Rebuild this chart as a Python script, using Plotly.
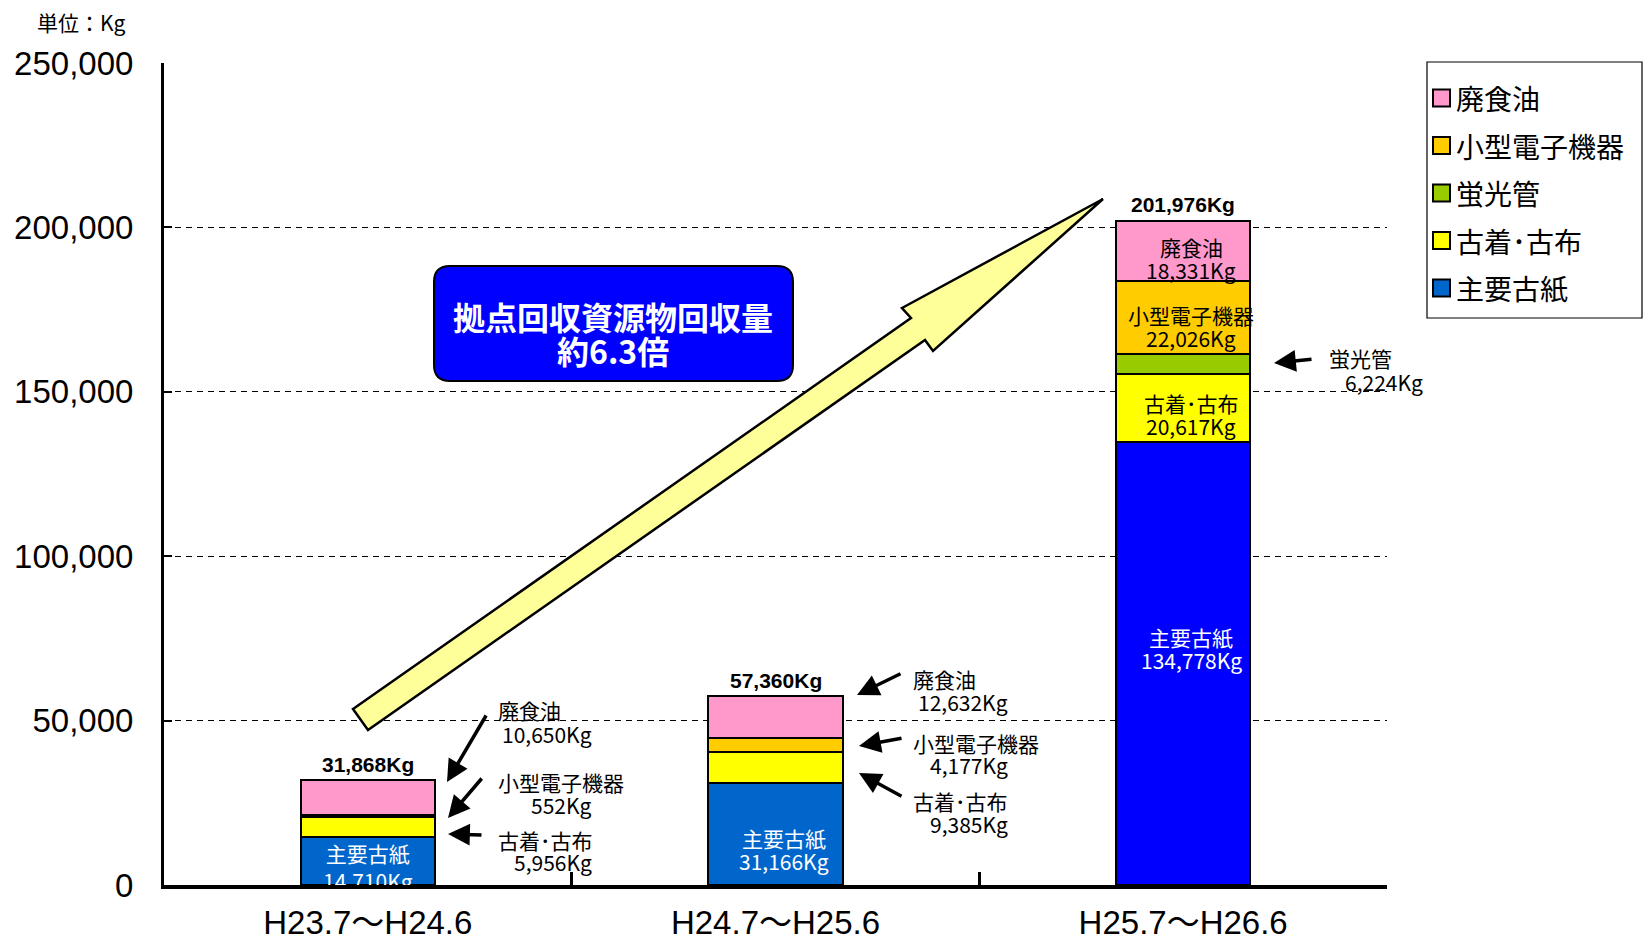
import plotly.graph_objects as go

# ---------------- data ----------------
categories = ["H23.7～H24.6", "H24.7～H25.6", "H25.7～H26.6"]
series_names = ["主要古紙", "古着･古布", "蛍光管", "小型電子機器", "廃食油"]
paper_kg = [14710, 31166, 134778]
clothes_kg = [5956, 9385, 20617]
fluorescent_kg = [0, 0, 6224]
electronics_kg = [552, 4177, 22026]
oil_kg = [10650, 12632, 18331]
totals_kg = [31868, 57360, 201976]
y_tick_vals = [0, 50000, 100000, 150000, 200000, 250000]
y_tick_text = ["0", "50,000", "100,000", "150,000", "200,000", "250,000"]
unit_label = "単位：Kg"
box_line1 = "拠点回収資源物回収量"
box_line2 = "約6.3倍"

# ---------------- geometry (page pixels) ----------------
PAGE_OFF = 8                      # default body margin of the html page
W, H = 1652 - PAGE_OFF, 942 - PAGE_OFF
L, R, T, B = 164, 1387, 63, 885   # plot area in page pixels
YMAX = 250000


def fx(px):
    return (px - L) / (R - L)


def fy(py):
    return (B - py) / (B - T)


def dv(px_offset):
    return px_offset * YMAX / (B - T)


CJK = "Noto Sans CJK JP"
LAT = "Liberation Sans, Arial, Noto Sans CJK JP"

paper_colors = ["#0066CC", "#0066CC", "#0000FF"]
legend_colors = ["#0066CC", "#FFFF00", "#99CC00", "#FFCC00", "#FF99CC"]
series = [
    (series_names[0], paper_kg, paper_colors),
    (series_names[1], clothes_kg, legend_colors[1]),
    (series_names[2], fluorescent_kg, legend_colors[2]),
    (series_names[3], electronics_kg, legend_colors[3]),
    (series_names[4], oil_kg, legend_colors[4]),
]

fig = go.Figure()
for i, (name, vals, col) in enumerate(series):
    fig.add_trace(go.Bar(
        x=categories, y=vals, name=name, showlegend=False,
        marker=dict(color=col, line=dict(color="black", width=2)),
        hoverinfo="skip",
    ))

# cumulative bases
cum = []
run = [0, 0, 0]
for _, vals, _ in series:
    cum.append(list(run))
    run = [a + b for a, b in zip(run, vals)]

LBL = 21
fmt = lambda v: f"{v:,}Kg"

# first bar's paper label is clipped by the axis, as in the original
fig.add_trace(go.Scatter(
    x=[categories[0]], y=[cum[0][0] + paper_kg[0] / 2 - dv(10)],
    text=[f"{series_names[0]}<br>{fmt(paper_kg[0])}"],
    mode="text", textposition="middle center", cliponaxis=True,
    textfont=dict(family=CJK, size=LBL, color="white"),
    showlegend=False, hoverinfo="skip",
))

annotations = []
LINE_GAP = 23


def bar_label(i, y, name, value, color, dy_px, dx_px=8):
    for k, t in enumerate([name, fmt(value)]):
        off = dy_px + (k - 0.5) * LINE_GAP
        annotations.append(dict(
            x=categories[i], y=y, xref="x", yref="y", text=t, showarrow=False,
            xanchor="center", yanchor="middle", xshift=dx_px, yshift=-off,
            font=dict(family=CJK, size=LBL, color=color),
        ))


bar_label(1, cum[0][1] + paper_kg[1] / 2, series_names[0], paper_kg[1], "white", 15.5)
bar_label(2, cum[0][2] + paper_kg[2] / 2, series_names[0], paper_kg[2], "white", -15)
bar_label(2, cum[1][2] + clothes_kg[2] / 2, series_names[1], clothes_kg[2], "black", 7)
bar_label(2, cum[3][2] + electronics_kg[2] / 2, series_names[3], electronics_kg[2], "black", 9)
bar_label(2, cum[4][2] + oil_kg[2] / 2, series_names[4], oil_kg[2], "black", 7)

for i in range(3):
    annotations.append(dict(
        x=categories[i], y=totals_kg[i], xref="x", yref="y", text=f"<b>{totals_kg[i]:,}Kg</b>",
        showarrow=False, yshift=16, font=dict(family=LAT, size=21, color="black"),
    ))


def txt(px, py, text, anchor="left", size=LBL, color="black"):
    annotations.append(dict(
        x=fx(px), y=fy(py), xref="paper", yref="paper", text=text, showarrow=False,
        xanchor=anchor, yanchor="middle", font=dict(family=CJK, size=size, color=color),
    ))


def arrow(tx, ty, hx, hy):
    annotations.append(dict(
        x=fx(hx), y=fy(hy), xref="paper", yref="paper",
        ax=tx - hx, ay=ty - hy, axref="pixel", ayref="pixel",
        text="", showarrow=True, arrowhead=2, arrowsize=1.25, arrowwidth=3.5,
        arrowcolor="black", standoff=0,
    ))


# bar 1 callouts
txt(496, 710, series_names[4]); txt(594, 734, fmt(oil_kg[0]), "right")
arrow(487, 714, 447, 782)
txt(496, 782, series_names[3]); txt(594, 805, fmt(electronics_kg[0]), "right")
arrow(483, 777, 448, 818)
txt(496, 840, series_names[1]); txt(594, 862, fmt(clothes_kg[0]), "right")
arrow(483, 835, 448, 834)
# bar 2 callouts
txt(911, 679, series_names[4]); txt(1010, 702, fmt(oil_kg[1]), "right")
arrow(902, 673, 857, 695)
txt(911, 743, series_names[3]); txt(1010, 765, fmt(electronics_kg[1]), "right")
arrow(903, 738, 859, 746)
txt(911, 801, series_names[1]); txt(1010, 824, fmt(clothes_kg[1]), "right")
arrow(903, 797, 859, 773)
# bar 3 callout
txt(1327, 358, series_names[2]); txt(1425, 382, fmt(fluorescent_kg[2]), "right")
arrow(1313, 359, 1274, 363)

txt(81, 22, unit_label, "center", 21)

# callout box text
txt(613, 316, f"<b>{box_line1}</b>", "center", 32, "white")
txt(613, 350, f"<b>{box_line2}</b>", "center", 32, "white")

shapes = []
arrow_pts = [(353, 709), (911, 318), (902, 308), (1103, 199), (933, 351), (925, 340), (368, 730)]
path = "M " + " L ".join(f"{fx(x):.5f},{fy(y):.5f}" for x, y in arrow_pts) + " Z"
shapes.append(dict(type="path", xref="paper", yref="paper", path=path,
                   fillcolor="#FFFF99", line=dict(color="black", width=2.5), layer="above"))

x0, x1, y0, y1, r = 434, 793, 266, 381, 16


def P(x, y):
    return f"{fx(x):.5f},{fy(y):.5f}"


rp = (f"M {P(x0 + r, y0)} L {P(x1 - r, y0)} Q {P(x1, y0)} {P(x1, y0 + r)} "
      f"L {P(x1, y1 - r)} Q {P(x1, y1)} {P(x1 - r, y1)} L {P(x0 + r, y1)} "
      f"Q {P(x0, y1)} {P(x0, y1 - r)} L {P(x0, y0 + r)} Q {P(x0, y0)} {P(x0 + r, y0)} Z")
shapes.append(dict(type="path", xref="paper", yref="paper", path=rp,
                   fillcolor="#0000FF", line=dict(color="black", width=2), layer="above"))

# legend (top item = top of stack)
shapes.append(dict(type="rect", xref="paper", yref="paper",
                   x0=fx(1427), x1=fx(1642), y0=fy(62), y1=fy(318),
                   fillcolor="white", line=dict(color="black", width=1.2), layer="above"))
leg_y0, leg_step = 98, 47.5
for k, idx in enumerate(reversed(range(len(series_names)))):
    cy = leg_y0 + k * leg_step
    shapes.append(dict(type="rect", xref="paper", yref="paper",
                       x0=fx(1433), x1=fx(1450), y0=fy(cy - 8.5), y1=fy(cy + 8.5),
                       fillcolor=legend_colors[idx], line=dict(color="black", width=2), layer="above"))
    txt(1454, cy, series_names[idx], "left", 28)

fig.update_layout(
    template="none",
    width=W, height=H,
    margin=dict(l=L - PAGE_OFF, r=W - (R - PAGE_OFF), t=T - PAGE_OFF, b=H - (B - PAGE_OFF),
                pad=0, autoexpand=False),
    paper_bgcolor="white", plot_bgcolor="white",
    barmode="stack", bargap=0.671,
    font=dict(family=LAT, color="black"),
    showlegend=False,
    xaxis=dict(
        type="category", range=[-0.5, 2.5], showline=True, linecolor="black", linewidth=3.5,
        ticks="inside", tickson="boundaries", ticklen=13, tickwidth=2.5, tickcolor="black",
        tickfont=dict(family=LAT, size=33, color="black"), ticklabelstandoff=6,
        showgrid=False, zeroline=False, automargin=False,
    ),
    yaxis=dict(
        range=[0, YMAX], tickvals=y_tick_vals, ticktext=y_tick_text,
        showline=True, linecolor="black", linewidth=3,
        ticks="inside", ticklen=8, tickwidth=2, tickcolor="black",
        tickfont=dict(family=LAT, size=33, color="black"), ticklabelstandoff=21,
        showgrid=True, gridcolor="black", gridwidth=1, griddash="6px,5px",
        zeroline=False, automargin=False,
    ),
    annotations=annotations,
    shapes=shapes,
)

fig.write_html("out.html")
